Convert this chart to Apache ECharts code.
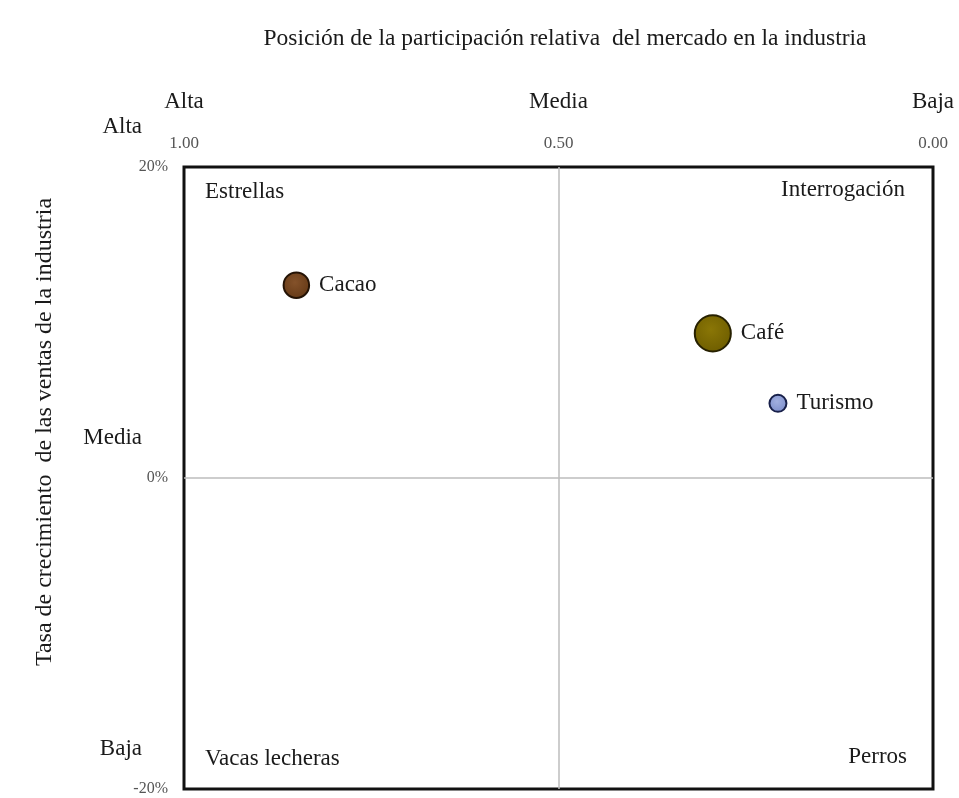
<!DOCTYPE html>
<html>
<head>
<meta charset="utf-8">
<script src="https://cdn.jsdelivr.net/npm/echarts@6/dist/echarts.min.js"></script>
<style>html,body{margin:0;padding:0;background:#fff}#c{width:959px;height:798px}</style>
</head>
<body>
<div id="c"></div>
<script>
// ---- data ----
const productos = ['Cacao', 'Café', 'Turismo'];
const participacion = [0.85, 0.294, 0.207];     // relative market share (x, inverted 1 -> 0)
const crecimiento = [12.4, 9.3, 4.8];           // industry sales growth, %
const ventas = [2.25, 4.5, 1.0];               // relative bubble weight
const xTicks = [0, 0.5, 1];
const xNivel = {'0': 'Baja', '0.5': 'Media', '1': 'Alta'};
const yNivel = {'-20': 'Baja', '0': 'Media', '20': 'Alta'};
const cuadrantes = ['Estrellas', 'Interrogación', 'Vacas lecheras', 'Perros'];
const cuadrantePos = [[1, 20], [0, 20], [1, -20], [0, -20]];

const FONT = "'Liberation Serif','Times New Roman',serif";
const fills = [
  {c0: '#84522a', c1: '#663a17', b: '#241305'},
  {c0: '#8a7606', c1: '#6f5e00', b: '#262000'},
  {c0: '#a2b0e0', c1: '#7d8ecb', b: '#18204a'}
];
const qOffsets = [[21, 25, 'left'], [-28, 23, 'right'], [21, -30, 'left'], [-26, -32, 'right']];

const chart = echarts.init(document.getElementById('c'));
chart.setOption({
  animation: false,
  backgroundColor: '#fff',
  grid: {left: 184, right: 26, top: 167, bottom: 9, outerBoundsMode: 'none', containLabel: false,
         show: true, borderWidth: 3, borderColor: '#111', backgroundColor: 'transparent'},
  graphic: [
    {type: 'text', x: 565, y: 39, style: {text: 'Posición de la participación relativa  del mercado en la industria', font: '23.5px ' + FONT, fill: '#1a1a1a', align: 'center', verticalAlign: 'middle'}},
    {type: 'text', x: 45, y: 432, rotation: Math.PI / 2, style: {text: 'Tasa de crecimiento  de las ventas de la industria', font: '24px ' + FONT, fill: '#1a1a1a', align: 'center', verticalAlign: 'middle'}}
  ],
  xAxis: [
    {type: 'value', position: 'top', inverse: true, min: 0, max: 1, interval: 0.5,
     axisLine: {show: false}, axisTick: {show: false}, splitLine: {show: false},
     axisLabel: {show: true, showMinLabel: true, showMaxLabel: true, margin: 15, fontFamily: FONT, fontSize: 17, color: '#555', formatter: v => v.toFixed(2)}},
    {type: 'value', position: 'top', inverse: true, min: 0, max: 1, interval: 0.5,
     axisLine: {show: false}, axisTick: {show: false}, splitLine: {show: false},
     axisLabel: {show: true, showMinLabel: true, showMaxLabel: true, margin: 54, fontFamily: FONT, fontSize: 23, color: '#1a1a1a', formatter: v => xNivel[String(v)]}}
  ],
  yAxis: [
    {type: 'value', min: -20, max: 20, interval: 20,
     axisLine: {show: false}, axisTick: {show: false}, splitLine: {show: false},
     axisLabel: {showMinLabel: true, showMaxLabel: true, margin: 16, fontFamily: FONT, fontSize: 16, color: '#555', formatter: v => v + '%'}},
    {type: 'value', position: 'left', min: -20, max: 20, interval: 20,
     axisLine: {show: false}, axisTick: {show: false}, splitLine: {show: false},
     axisLabel: {showMinLabel: true, showMaxLabel: true, margin: 42, color: '#1a1a1a',
       formatter: v => '{t|' + yNivel[String(v)] + '}\n{g|}',
       rich: {t: {fontFamily: FONT, fontSize: 23, color: '#1a1a1a', lineHeight: 26}, g: {height: 80, lineHeight: 80}}}}
  ],
  series: [
    {
      type: 'scatter', xAxisIndex: 0, yAxisIndex: 0,
      data: productos.map((p, i) => ({
        name: p, value: [participacion[i], crecimiento[i], ventas[i]],
        itemStyle: {
          opacity: 1,
          color: {type: 'radial', x: 0.45, y: 0.4, r: 0.6, colorStops: [{offset: 0, color: fills[i].c0}, {offset: 1, color: fills[i].c1}]},
          borderColor: fills[i].b, borderWidth: 2
        }
      })),
      symbolSize: v => 17 * Math.sqrt(v[2]),
      label: {show: true, position: 'right', distance: 9, formatter: '{b}', fontFamily: FONT, fontSize: 23, color: '#1a1a1a'},
      markLine: {
        silent: true, symbol: 'none', label: {show: false},
        lineStyle: {color: '#bdbdbd', width: 1.5, type: 'solid', opacity: 1},
        data: [{xAxis: xTicks[1]}, {yAxis: 0}]
      },
      z: 3
    },
    {
      type: 'scatter', xAxisIndex: 0, yAxisIndex: 0, symbolSize: 0, silent: true,
      itemStyle: {opacity: 1},
      data: cuadrantes.map((q, i) => ({
        name: q, value: cuadrantePos[i],
        label: {show: true, position: 'inside', offset: [qOffsets[i][0], qOffsets[i][1]], align: qOffsets[i][2], verticalAlign: 'middle',
                formatter: '{b}', fontFamily: FONT, fontSize: 23, color: '#1a1a1a'}
      })),
      z: 4
    }
  ]
});
</script>
</body>
</html>
